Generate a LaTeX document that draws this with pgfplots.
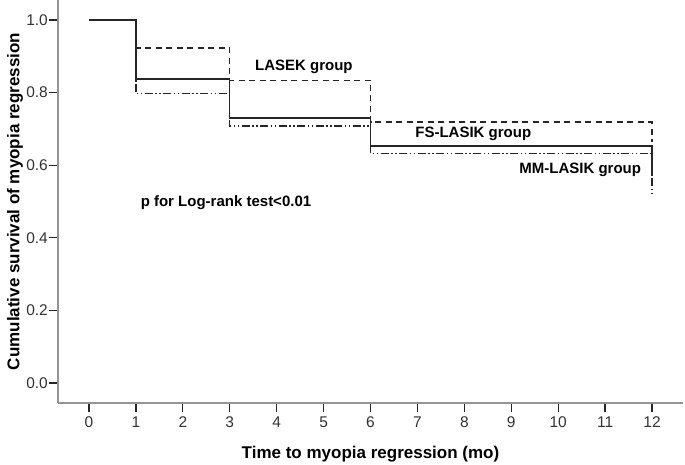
\documentclass[border=0pt]{standalone}
\usepackage{pgfplots}
\pgfplotsset{compat=1.18}
\usepackage{fontspec}
\setmainfont{Liberation Sans}
\begin{document}
\begin{tikzpicture}
\path[use as bounding box] (0,0) rectangle (685pt,464pt);
\begin{axis}[
  at={(58pt,61pt)}, anchor=south west,
  scale only axis, width=625pt, height=403pt,
  xmin=-0.66, xmax=12.66, ymin=-0.055, ymax=1.055,
  axis x line*=bottom, axis y line*=left,
  axis line style={-, draw=black!42, line width=1.4pt},
  xtick={0,1,...,12}, ytick={0,0.2,0.4,0.6,0.8,1.0},
  tick align=outside, major tick length=9pt,
  tick style={black!85, line width=1.3pt},
  minor tick num=0,
  /pgf/number format/assume math mode=true,
  yticklabel={\pgfmathprintnumber[fixed,fixed zerofill,precision=1]{\tick}},
  tick label style={font=\fontsize{15.5}{18}\selectfont, text=black!80},
  yticklabel style={inner sep=1pt},
  xticklabel style={inner sep=0pt, text height=11.2pt, text depth=0pt, anchor=north, yshift=-4pt},
  xlabel={Time to myopia regression (mo)},
  ylabel={Cumulative survival of myopia regression},
  label style={font=\bfseries\fontsize{17}{20}\selectfont},
  xlabel style={at={(axis description cs:0.5,-0.126)}, anchor=center},
  ylabel style={at={(axis description cs:-0.0688,0.5)}, anchor=center},
  clip=false,
]
% LASEK group
\addplot[const plot, black!85, line width=1.3pt, dash pattern=on 6pt off 4.5pt] coordinates {
  (0,1) (1,0.923) (3,0.834) (6,0.719) (12,0.665)};
% MM-LASIK group
\addplot[const plot, black!85, line width=1.3pt, dash pattern=on 8pt off 2.5pt on 1.5pt off 2.5pt on 1.5pt off 2.5pt] coordinates {
  (0,1) (1,0.797) (3,0.708) (6,0.632) (12,0.515)};
% FS-LASIK group
\addplot[const plot, black!85, line width=1.3pt] coordinates {
  (0,1) (1,0.837) (3,0.730) (6,0.653) (12,0.570)};
\node[font=\bfseries\fontsize{15}{18}\selectfont] at (axis cs:4.58,0.870) {LASEK group};
\node[font=\bfseries\fontsize{15}{18}\selectfont] at (axis cs:8.19,0.685) {FS-LASIK group};
\node[font=\bfseries\fontsize{15}{18}\selectfont] at (axis cs:10.47,0.586) {MM-LASIK group};
\node[font=\bfseries\fontsize{15}{18}\selectfont] at (axis cs:2.92,0.497) {p for Log-rank test<0.01};
\end{axis}
\end{tikzpicture}
\end{document}
